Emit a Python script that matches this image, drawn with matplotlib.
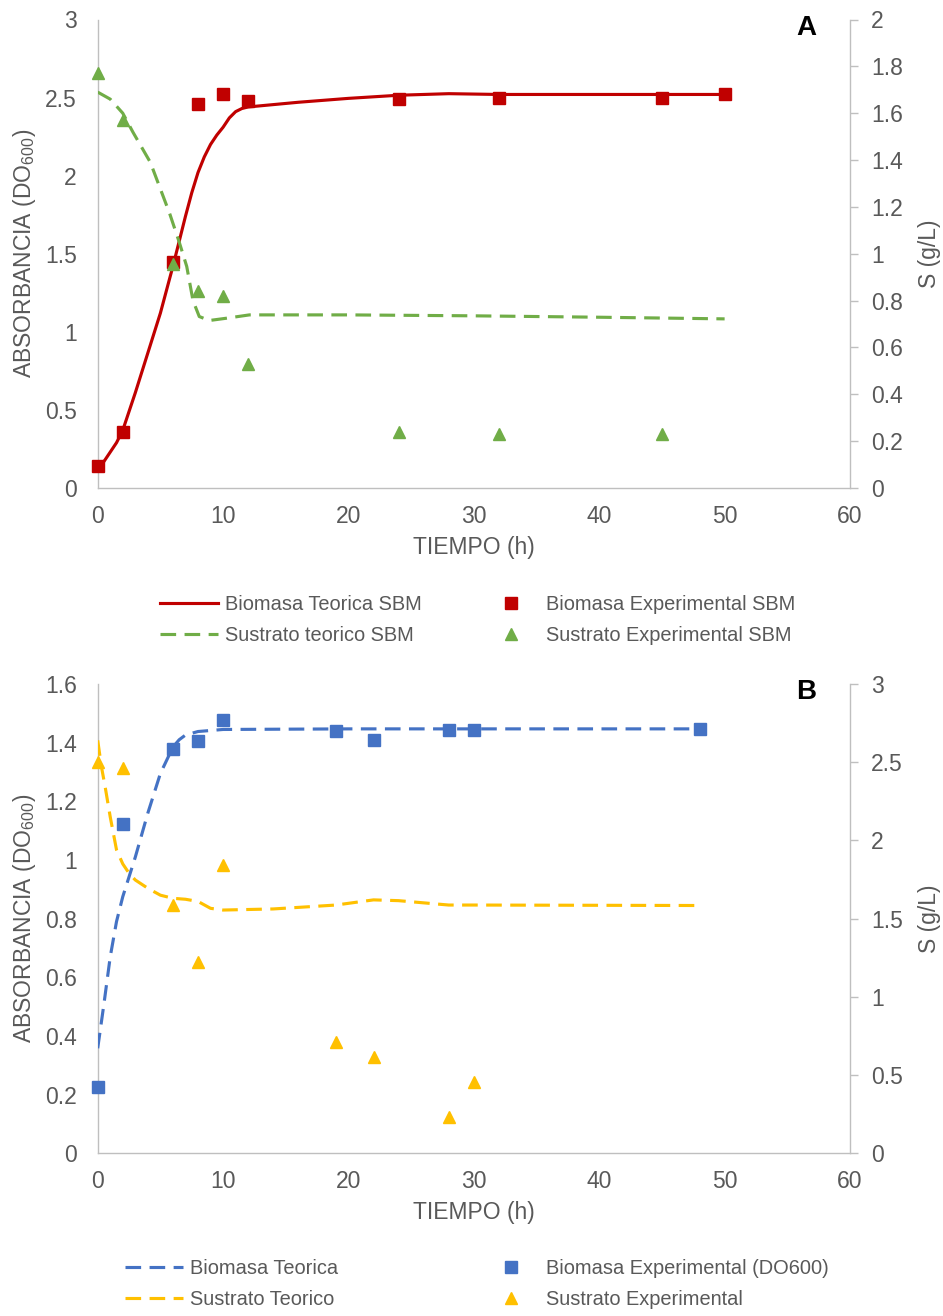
import matplotlib
matplotlib.use("Agg")
import matplotlib.pyplot as plt
from matplotlib.ticker import FixedLocator, FuncFormatter

plt.rcParams['font.family'] = ['Liberation Sans', 'DejaVu Sans']
plt.rcParams['mathtext.fontset'] = 'custom'
plt.rcParams['mathtext.rm'] = 'Liberation Sans'

# ---------------- Panel A data ----------------
a_exp_t = [0, 2, 6, 8, 10, 12, 24, 32, 45, 50]
a_exp_biomasa = [0.14, 0.36, 1.45, 2.46, 2.52, 2.48, 2.49, 2.50, 2.50, 2.52]
a_sus_t = [0, 2, 6, 8, 10, 12, 24, 32, 45]
a_exp_sustrato = [1.77, 1.57, 0.955, 0.84, 0.82, 0.53, 0.24, 0.23, 0.23]

a_teo_bio_t = [0, 0.5, 1, 1.5, 2, 3, 4, 5, 6, 7, 7.5, 8, 8.5, 9, 9.5, 10, 10.5, 11, 11.5, 12,
               16, 20, 24, 28, 32, 40, 50]
a_teo_biomasa = [0.14, 0.17, 0.23, 0.29, 0.37, 0.61, 0.865, 1.12, 1.42, 1.74, 1.89, 2.02, 2.12,
                 2.20, 2.26, 2.31, 2.37, 2.41, 2.43, 2.44, 2.47, 2.495, 2.515, 2.525, 2.52,
                 2.52, 2.52]
a_teo_sus_t = [0, 1, 2, 2.8, 4.2, 5.75, 6.5, 7.1, 7.6, 8.1, 8.9, 10.3, 12.1, 20, 30, 40, 50]
a_teo_sustrato = [1.69, 1.66, 1.60, 1.52, 1.39, 1.17, 1.05, 0.946, 0.80, 0.732,
                  0.715, 0.725, 0.739, 0.739, 0.735, 0.729, 0.722]

# ---------------- Panel B data ----------------
b_exp_t = [0, 2, 6, 8, 10, 19, 22, 28, 30, 48]
b_exp_biomasa = [0.225, 1.123, 1.377, 1.406, 1.477, 1.44, 1.409, 1.442, 1.442, 1.447]
b_sus_t = [0, 2, 6, 8, 10, 19, 22, 28, 30]
b_exp_sustrato = [2.50, 2.46, 1.59, 1.225, 1.84, 0.714, 0.618, 0.23, 0.454]

b_teo_bio_t = [0, 0.5, 1, 1.5, 2, 3, 4, 5, 6, 6.5, 7, 8, 10, 20, 30, 48]
b_teo_biomasa = [0.358, 0.51, 0.67, 0.79, 0.875, 1.01, 1.16, 1.295, 1.385, 1.41, 1.426,
                 1.438, 1.445, 1.447, 1.447, 1.447]
b_teo_sus_t = [0, 0.3, 0.6, 1, 1.5, 2, 2.5, 3, 4, 5, 6, 7, 8, 9, 10, 14, 19, 22, 24, 28, 30, 48]
b_teo_sustrato = [2.64, 2.47, 2.34, 2.15, 1.94, 1.85, 1.79, 1.747, 1.694, 1.65, 1.63,
                  1.624, 1.61, 1.566, 1.555, 1.562, 1.587, 1.62, 1.615, 1.587, 1.587, 1.584]

x_ticks = [0, 10, 20, 30, 40, 50, 60]
a_left_ticks = [0, 0.5, 1, 1.5, 2, 2.5, 3]
a_right_ticks = [0, 0.2, 0.4, 0.6, 0.8, 1, 1.2, 1.4, 1.6, 1.8, 2]
b_left_ticks = [0, 0.2, 0.4, 0.6, 0.8, 1, 1.2, 1.4, 1.6]
b_right_ticks = [0, 0.5, 1, 1.5, 2, 2.5, 3]

RED = '#C00000'
GREEN = '#70AD47'
BLUE = '#4472C4'
YELLOW = '#FFC000'
TXT = '#595959'
SPINE = '#BFBFBF'
FS = 16.5
LW = 2.25
DASH = (5, 2.7)

W, H = 943, 1316
fig = plt.figure(figsize=(W / 100, H / 100), dpi=100)


def make_axes(top_px, bottom_px):
    left_px, right_px = 97.7, 850.0
    ax = fig.add_axes([left_px / W, 1 - bottom_px / H, (right_px - left_px) / W,
                       (bottom_px - top_px) / H])
    ax2 = ax.twinx()
    return ax, ax2


fmt = FuncFormatter(lambda v, p: ('%g' % round(v, 3)))


def style(ax, ax2, lticks, rticks, xlabel):
    ax.set_xlim(0, 60)
    ax.set_ylim(lticks[0], lticks[-1])
    ax2.set_ylim(rticks[0], rticks[-1])
    ax.xaxis.set_major_locator(FixedLocator(x_ticks))
    ax.yaxis.set_major_locator(FixedLocator(lticks))
    ax2.yaxis.set_major_locator(FixedLocator(rticks))
    for a in (ax, ax2):
        a.xaxis.set_major_formatter(fmt)
        a.yaxis.set_major_formatter(fmt)
        for s in a.spines.values():
            s.set_color(SPINE)
            s.set_linewidth(1.0)
        a.spines['top'].set_visible(False)
    ax.spines['right'].set_visible(False)
    ax2.spines['left'].set_visible(False)
    ax2.spines['bottom'].set_visible(False)
    ax.tick_params(axis='x', length=0, pad=12, labelsize=FS, labelcolor=TXT)
    ax.tick_params(axis='y', length=0, pad=15, labelsize=FS, labelcolor=TXT)
    ax2.tick_params(axis='y', length=6, width=1, color=SPINE, pad=9,
                    labelsize=FS, labelcolor=TXT)
    ax.set_xlabel(xlabel, fontsize=FS, color=TXT, labelpad=6)
    ax.set_ylabel('ABSORBANCIA (DO$_{\\mathregular{600}}$)', fontsize=FS, color=TXT, labelpad=5)
    ax2.set_ylabel('S (g/L)', fontsize=FS, color=TXT, labelpad=11)
    ax2.patch.set_visible(False)


# ---------------- Panel A ----------------
axA, axA2 = make_axes(19.5, 488.0)
lA1, = axA.plot(a_teo_bio_t, a_teo_biomasa, color=RED, lw=LW, zorder=3)
lA3, = axA.plot(a_exp_t, a_exp_biomasa, ls='none', marker='s', ms=8.2, color=RED, zorder=4,
                clip_on=False)
lA2, = axA2.plot(a_teo_sus_t, a_teo_sustrato, color=GREEN, lw=LW, dashes=DASH, zorder=3)
lA4, = axA2.plot(a_sus_t, a_exp_sustrato, ls='none', marker='^', ms=8.5, color=GREEN, zorder=4,
                 clip_on=False)
style(axA, axA2, a_left_ticks, a_right_ticks, 'TIEMPO (h)')
axA.text(0.9415, 0.982, 'A', transform=axA.transAxes, ha='center', va='center',
         fontsize=20, fontweight='bold', color='black')

# ---------------- Panel B ----------------
axB, axB2 = make_axes(684.0, 1153.3)
lB1, = axB.plot(b_teo_bio_t, b_teo_biomasa, color=BLUE, lw=LW, dashes=DASH, zorder=3)
lB3, = axB.plot(b_exp_t, b_exp_biomasa, ls='none', marker='s', ms=8.2, color=BLUE, zorder=4,
                clip_on=False)
lB2, = axB2.plot(b_teo_sus_t, b_teo_sustrato, color=YELLOW, lw=LW, dashes=DASH, zorder=3)
lB4, = axB2.plot(b_sus_t, b_exp_sustrato, ls='none', marker='^', ms=8.5, color=YELLOW, zorder=4,
                 clip_on=False)
style(axB, axB2, b_left_ticks, b_right_ticks, 'TIEMPO (h)')
axB.text(0.9415, 0.983, 'B', transform=axB.transAxes, ha='center', va='center',
         fontsize=20, fontweight='bold', color='black')

# ---------------- Legends ----------------
LFS = 14.4
em = LFS * 100 / 72


def col_legend(handles, labels, x_px, y_px, hlen_px, gap_px):
    leg = fig.legend(handles, labels, loc='center left',
                     bbox_to_anchor=(x_px / W, 1 - y_px / H),
                     frameon=False, fontsize=LFS, borderpad=0, borderaxespad=0,
                     handlelength=hlen_px / em, handletextpad=gap_px / em,
                     labelspacing=0.62, labelcolor=TXT)
    return leg


col_legend([lA1, lA2], ['Biomasa Teorica SBM', 'Sustrato teorico SBM'], 160, 620, 58, 7)
col_legend([lA3, lA4], ['Biomasa Experimental SBM', 'Sustrato Experimental SBM'], 502, 620, 18, 26)
col_legend([lB1, lB2], ['Biomasa Teorica', 'Sustrato Teorico'], 125, 1284, 58, 7)
col_legend([lB3, lB4], ['Biomasa Experimental (DO600)', 'Sustrato Experimental'], 502, 1284, 18, 26)

fig.savefig('out.png', dpi=100)
